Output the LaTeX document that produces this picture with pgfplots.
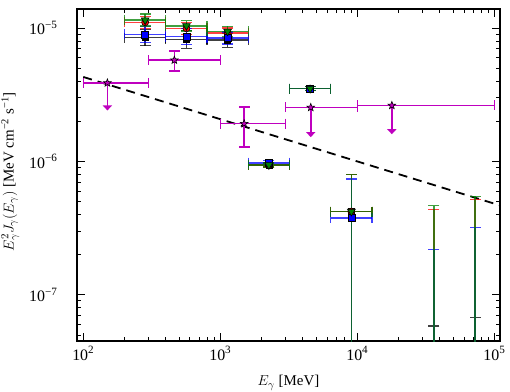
\documentclass[border=0pt]{standalone}
\usepackage{fontspec}
\setmainfont{Liberation Serif}
\usepackage{pgfplots}
\usepackage{pgfplotstable}
\pgfplotsset{compat=1.18}
\usetikzlibrary{arrows.meta}

\definecolor{mcol}{rgb}{0.75,0,0.75}
\definecolor{gcol}{rgb}{0,0.5,0}

% five-pointed star plot mark (filled and stroked)
\pgfdeclareplotmark{fstar}{%
  \pgfpathmoveto{\pgfpointpolar{90}{\pgfplotmarksize}}%
  \pgfpathlineto{\pgfpointpolar{126}{0.42\pgfplotmarksize}}%
  \pgfpathlineto{\pgfpointpolar{162}{\pgfplotmarksize}}%
  \pgfpathlineto{\pgfpointpolar{198}{0.42\pgfplotmarksize}}%
  \pgfpathlineto{\pgfpointpolar{234}{\pgfplotmarksize}}%
  \pgfpathlineto{\pgfpointpolar{270}{0.42\pgfplotmarksize}}%
  \pgfpathlineto{\pgfpointpolar{306}{\pgfplotmarksize}}%
  \pgfpathlineto{\pgfpointpolar{342}{0.42\pgfplotmarksize}}%
  \pgfpathlineto{\pgfpointpolar{18}{\pgfplotmarksize}}%
  \pgfpathlineto{\pgfpointpolar{54}{0.42\pgfplotmarksize}}%
  \pgfpathclose
  \pgfusepathqfillstroke}

% ---------- flux points (bin centre, flux) ----------
\pgfplotstableread{
x      y
283    8.49e-6
566    8.22e-6
1131   8.10e-6
2263   9.41e-7
4525   3.52e-6
9051   4.21e-7
}\blackpts
\pgfplotstableread{
x      y
283    1.104e-5
566    9.95e-6
1131   9.17e-6
2263   9.41e-7
4525   3.52e-6
9051   4.21e-7
}\redpts
\pgfplotstableread{
x      y
283    8.97e-6
566    8.63e-6
1131   8.41e-6
2263   9.78e-7
4525   3.52e-6
9051   3.75e-7
}\bluepts
\pgfplotstableread{
x      y
283    1.148e-5
566    1.04e-5
1131   9.45e-6
2263   9.41e-7
4525   3.52e-6
9051   4.21e-7
}\greenpts

% ---------- bin widths (horizontal segments) ----------
\pgfplotstableread{
x      y
200    8.49e-6
400    8.49e-6
nan    nan
400    8.22e-6
800    8.22e-6
nan    nan
800    8.10e-6
1600   8.10e-6
nan    nan
1600   9.41e-7
3200   9.41e-7
nan    nan
3200   3.52e-6
6400   3.52e-6
nan    nan
6400   4.21e-7
12800  4.21e-7
}\blackh
\pgfplotstableread{
x      y
200    1.104e-5
400    1.104e-5
nan    nan
400    9.95e-6
800    9.95e-6
nan    nan
800    9.17e-6
1600   9.17e-6
nan    nan
1600   9.41e-7
3200   9.41e-7
nan    nan
3200   3.52e-6
6400   3.52e-6
nan    nan
6400   4.21e-7
12800  4.21e-7
}\redh
\pgfplotstableread{
x      y
200    8.97e-6
400    8.97e-6
nan    nan
400    8.63e-6
800    8.63e-6
nan    nan
800    8.41e-6
1600   8.41e-6
nan    nan
1600   9.78e-7
3200   9.78e-7
nan    nan
3200   3.52e-6
6400   3.52e-6
nan    nan
6400   3.75e-7
12800  3.75e-7
}\blueh
\pgfplotstableread{
x      y
200    1.148e-5
400    1.148e-5
nan    nan
400    1.04e-5
800    1.04e-5
nan    nan
800    9.45e-6
1600   9.45e-6
nan    nan
1600   9.41e-7
3200   9.41e-7
nan    nan
3200   3.52e-6
6400   3.52e-6
nan    nan
6400   4.21e-7
12800  4.21e-7
}\greenh

% ---------- flux uncertainties (vertical segments) ----------
\pgfplotstableread{
x      y
283    7.39e-6
283    9.76e-6
nan    nan
566    7.03e-6
566    9.61e-6
nan    nan
1131   7.18e-6
1131   9.14e-6
nan    nan
2263   9.09e-7
2263   9.74e-7
nan    nan
4525   3.40e-6
4525   3.64e-6
nan    nan
9051   1e-8
9051   7.98e-7
nan    nan
36204  1e-8
36204  5.85e-8
nan    nan
72408  1e-8
72408  6.75e-8
}\blackv
\pgfplotstableread{
x      y
283    9.95e-6
283    1.225e-5
nan    nan
566    8.97e-6
566    1.104e-5
nan    nan
1131   8.41e-6
1131   1.000e-5
nan    nan
2263   9.09e-7
2263   9.74e-7
nan    nan
4525   3.40e-6
4525   3.64e-6
nan    nan
9051   1e-8
9051   7.98e-7
nan    nan
36204  1e-8
36204  4.37e-7
nan    nan
72408  1e-8
72408  5.18e-7
}\redv
\pgfplotstableread{
x      y
283    7.80e-6
283    1.031e-5
nan    nan
566    7.51e-6
566    9.92e-6
nan    nan
1131   7.58e-6
1131   9.33e-6
nan    nan
2263   9.46e-7
2263   1.011e-6
nan    nan
4525   3.40e-6
4525   3.64e-6
nan    nan
9051   1e-8
9051   7.36e-7
nan    nan
36204  1e-8
36204  2.19e-7
nan    nan
72408  1e-8
72408  3.21e-7
}\bluev
\pgfplotstableread{
x      y
283    1.035e-5
283    1.274e-5
nan    nan
566    9.54e-6
566    1.134e-5
nan    nan
1131   8.67e-6
1131   1.031e-5
nan    nan
2263   9.09e-7
2263   9.74e-7
nan    nan
4525   3.40e-6
4525   3.64e-6
nan    nan
9051   1e-8
9051   7.98e-7
nan    nan
36204  1e-8
36204  4.67e-7
nan    nan
72408  1e-8
72408  5.46e-7
}\greenv

% ---------- second data set: detections and upper limits ----------
\pgfplotstableread{
x      y
150    3.88e-6
462    5.75e-6
1493   1.92e-6
4573   2.54e-6
17870  2.63e-6
}\mpts
\pgfplotstableread{
x      y
100    3.88e-6
300    3.88e-6
nan    nan
300    5.75e-6
1000   5.75e-6
nan    nan
1000   1.92e-6
3000   1.92e-6
nan    nan
3000   2.54e-6
10000  2.54e-6
nan    nan
10000  2.63e-6
100000 2.63e-6
}\mh
\pgfplotstableread{
x      y
462    4.75e-6
462    6.75e-6
nan    nan
1493   1.28e-6
1493   2.56e-6
}\mv

% segments with end caps: a jumped line plus cap marks at the ends
\pgfplotsset{
  seg/.style 2 args={#1, line width=1.6bp, opacity=#2, unbounded coords=jump, mark=none},
  hcap/.style 2 args={#1, only marks, mark=|, mark size=5bp, opacity=#2,
                      mark options={line width=1.4bp}},
  vcap/.style 2 args={#1, only marks, mark=-, mark size=5.5bp, opacity=#2,
                      mark options={line width=1.4bp}},
}

\begin{document}
\begin{tikzpicture}
\useasboundingbox (-77bp,-51bp) rectangle (433bp,341bp);
\begin{axis}[
  scale only axis,
  width=423bp, height=332bp,
  xmode=log, ymode=log,
  xmin=90, xmax=1.1e5,
  ymin=4.5e-8, ymax=1.39e-5,
  clip marker paths=true,
  xtick={1e2,1e3,1e4,1e5},
  xticklabels={10\textsuperscript{2},10\textsuperscript{3},10\textsuperscript{4},10\textsuperscript{5}},
  minor xtick={200,300,400,500,600,700,800,900,2000,3000,4000,5000,6000,7000,8000,9000,
               20000,30000,40000,50000,60000,70000,80000,90000},
  ytick={1e-7,1e-6,1e-5},
  yticklabels={10\textsuperscript{−7},10\textsuperscript{−6},10\textsuperscript{−5}},
  minor ytick={5e-8,6e-8,7e-8,8e-8,9e-8,2e-7,3e-7,4e-7,5e-7,6e-7,7e-7,8e-7,9e-7,
               2e-6,3e-6,4e-6,5e-6,6e-6,7e-6,8e-6,9e-6},
  tick align=inside,
  major tick length=8bp, minor tick length=4bp,
  every tick/.style={black, line width=0.8bp},
  axis line style={line width=1.6bp},
  tick label style={font=\fontsize{16}{19}\selectfont},
  yticklabel style={xshift=-16bp},
  xticklabel style={yshift=-2bp},
  label style={font=\fontsize{15}{18}\selectfont},
  xlabel={$E_\gamma$ [MeV]},
  ylabel={$E_\gamma^2 J_\gamma(E_\gamma)$ [MeV cm\textsuperscript{−2} s\textsuperscript{−1}]},
  xlabel style={at={(axis description cs:0.5,0)}, anchor=north, yshift=-31bp},
  ylabel style={at={(axis description cs:-0.128,0.51)}, anchor=south},
]

% power-law reference
\addplot[black, line width=1.8bp, dash pattern=on 9bp off 6bp]
  coordinates {(100,4.30e-6) (1.1e5,4.68e-7)};

% bin widths and flux uncertainties
\addplot[seg={black}{0.75}]  table[x=x, y=y] {\blackh};
\addplot[hcap={black}{0.75}] table[x=x, y=y] {\blackh};
\addplot[seg={black}{0.75}]  table[x=x, y=y] {\blackv};
\addplot[vcap={black}{0.75}] table[x=x, y=y] {\blackv};
\addplot[seg={red}{0.75}]    table[x=x, y=y] {\redh};
\addplot[hcap={red}{0.75}]   table[x=x, y=y] {\redh};
\addplot[seg={red}{0.75}]    table[x=x, y=y] {\redv};
\addplot[vcap={red}{0.75}]   table[x=x, y=y] {\redv};
\addplot[seg={blue}{0.75}]   table[x=x, y=y] {\blueh};
\addplot[hcap={blue}{0.75}]  table[x=x, y=y] {\blueh};
\addplot[seg={blue}{0.75}]   table[x=x, y=y] {\bluev};
\addplot[vcap={blue}{0.75}]  table[x=x, y=y] {\bluev};
\addplot[seg={gcol}{0.75}]   table[x=x, y=y] {\greenh};
\addplot[hcap={gcol}{0.75}]  table[x=x, y=y] {\greenh};
\addplot[seg={gcol}{0.75}]   table[x=x, y=y] {\greenv};
\addplot[vcap={gcol}{0.75}]  table[x=x, y=y] {\greenv};

% flux points
\addplot[only marks, mark=square*, mark size=3bp,
  mark options={draw=black, fill=black}]
  table[x=x, y=y] {\blackpts};
\addplot[only marks, mark=*, mark size=3.5bp,
  mark options={draw=black, fill=red, line width=0.6bp}]
  table[x=x, y=y] {\redpts};
\addplot[only marks, mark=square*, mark size=3.5bp,
  mark options={draw=black, fill=blue, line width=0.6bp}]
  table[x=x, y=y] {\bluepts};
\addplot[only marks, mark=triangle*, mark size=4.5bp,
  mark options={draw=black, fill=gcol, line width=0.6bp, rotate=180}]
  table[x=x, y=y] {\greenpts};

% upper-limit arrows
\addplot[mcol, line width=1.6bp, -{Triangle[width=9bp,length=5bp]}]
  coordinates {(150,3.88e-6) (150,2.41e-6)};
\addplot[mcol, line width=1.6bp, -{Triangle[width=9bp,length=5bp]}]
  coordinates {(4573,2.54e-6) (4573,1.52e-6)};
\addplot[mcol, line width=1.6bp, -{Triangle[width=9bp,length=5bp]}]
  coordinates {(17870,2.63e-6) (17870,1.60e-6)};

% second data set: bins, errors and points
\addplot[seg={mcol}{1}]  table[x=x, y=y] {\mh};
\addplot[hcap={mcol}{1}] table[x=x, y=y] {\mh};
\addplot[seg={mcol}{1}]  table[x=x, y=y] {\mv};
\addplot[vcap={mcol}{1}] table[x=x, y=y] {\mv};
\addplot[only marks, mark=fstar, mark size=4bp,
  mark options={draw=black, fill=mcol, line width=0.6bp}]
  table[x=x, y=y] {\mpts};

\end{axis}
\end{tikzpicture}
\end{document}
